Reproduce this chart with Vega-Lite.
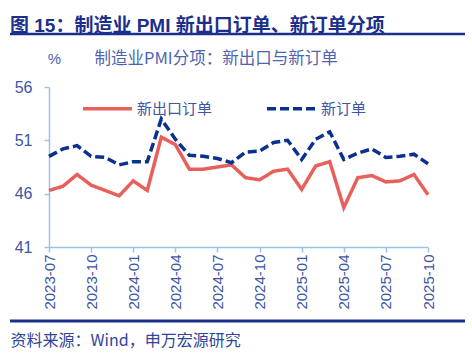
{
  "$schema": "https://vega.github.io/schema/vega-lite/v6.json",
  "width": 379,
  "height": 160,
  "autosize": {"type": "none"},
  "padding": {"left": 49, "top": 87, "right": 44, "bottom": 107},
  "background": "white",
  "config": {
    "view": {"stroke": null},
    "font": "Noto Sans CJK SC"
  },
  "title": {
    "text": "图 15：制造业 PMI 新出口订单、新订单分项",
    "anchor": "start",
    "frame": "group",
    "dx": -39,
    "dy": 23,
    "fontSize": 19,
    "fontWeight": "bold",
    "color": "#1d2f8c",
    "font": "Liberation Sans, Noto Sans CJK SC",
    "offset": 20
  },
  "data": {
    "values": [
      {"month": "2023-07", "series": "新出口订单", "value": 46.3},
      {"month": "2023-08", "series": "新出口订单", "value": 46.7},
      {"month": "2023-09", "series": "新出口订单", "value": 47.8},
      {"month": "2023-10", "series": "新出口订单", "value": 46.8},
      {"month": "2023-11", "series": "新出口订单", "value": 46.3},
      {"month": "2023-12", "series": "新出口订单", "value": 45.8},
      {"month": "2024-01", "series": "新出口订单", "value": 47.2},
      {"month": "2024-02", "series": "新出口订单", "value": 46.3},
      {"month": "2024-03", "series": "新出口订单", "value": 51.3},
      {"month": "2024-04", "series": "新出口订单", "value": 50.6},
      {"month": "2024-05", "series": "新出口订单", "value": 48.3},
      {"month": "2024-06", "series": "新出口订单", "value": 48.3},
      {"month": "2024-07", "series": "新出口订单", "value": 48.5},
      {"month": "2024-08", "series": "新出口订单", "value": 48.7},
      {"month": "2024-09", "series": "新出口订单", "value": 47.5},
      {"month": "2024-10", "series": "新出口订单", "value": 47.3},
      {"month": "2024-11", "series": "新出口订单", "value": 48.1},
      {"month": "2024-12", "series": "新出口订单", "value": 48.3},
      {"month": "2025-01", "series": "新出口订单", "value": 46.4},
      {"month": "2025-02", "series": "新出口订单", "value": 48.6},
      {"month": "2025-03", "series": "新出口订单", "value": 49.0},
      {"month": "2025-04", "series": "新出口订单", "value": 44.7},
      {"month": "2025-05", "series": "新出口订单", "value": 47.5},
      {"month": "2025-06", "series": "新出口订单", "value": 47.7},
      {"month": "2025-07", "series": "新出口订单", "value": 47.1},
      {"month": "2025-08", "series": "新出口订单", "value": 47.2},
      {"month": "2025-09", "series": "新出口订单", "value": 47.8},
      {"month": "2025-10", "series": "新出口订单", "value": 45.9},
      {"month": "2023-07", "series": "新订单", "value": 49.5},
      {"month": "2023-08", "series": "新订单", "value": 50.2},
      {"month": "2023-09", "series": "新订单", "value": 50.5},
      {"month": "2023-10", "series": "新订单", "value": 49.5},
      {"month": "2023-11", "series": "新订单", "value": 49.4},
      {"month": "2023-12", "series": "新订单", "value": 48.7},
      {"month": "2024-01", "series": "新订单", "value": 49.0},
      {"month": "2024-02", "series": "新订单", "value": 49.0},
      {"month": "2024-03", "series": "新订单", "value": 53.0},
      {"month": "2024-04", "series": "新订单", "value": 51.1},
      {"month": "2024-05", "series": "新订单", "value": 49.6},
      {"month": "2024-06", "series": "新订单", "value": 49.5},
      {"month": "2024-07", "series": "新订单", "value": 49.3},
      {"month": "2024-08", "series": "新订单", "value": 48.9},
      {"month": "2024-09", "series": "新订单", "value": 49.9},
      {"month": "2024-10", "series": "新订单", "value": 50.0},
      {"month": "2024-11", "series": "新订单", "value": 50.8},
      {"month": "2024-12", "series": "新订单", "value": 51.0},
      {"month": "2025-01", "series": "新订单", "value": 49.2},
      {"month": "2025-02", "series": "新订单", "value": 51.1},
      {"month": "2025-03", "series": "新订单", "value": 51.8},
      {"month": "2025-04", "series": "新订单", "value": 49.2},
      {"month": "2025-05", "series": "新订单", "value": 49.8},
      {"month": "2025-06", "series": "新订单", "value": 50.2},
      {"month": "2025-07", "series": "新订单", "value": 49.4},
      {"month": "2025-08", "series": "新订单", "value": 49.5},
      {"month": "2025-09", "series": "新订单", "value": 49.7},
      {"month": "2025-10", "series": "新订单", "value": 48.8}
    ]
  },
  "layer": [
    {
      "transform": [{"filter": "datum.series == '新出口订单'"}],
      "mark": {"type": "line", "strokeWidth": 3.5, "strokeCap": "butt", "strokeJoin": "miter"},
      "encoding": {
        "x": {
          "field": "month", "type": "ordinal",
          "scale": {"type": "point", "padding": 0},
          "axis": {
            "orient": "bottom",
            "values": ["2023-07", "2023-10", "2024-01", "2024-04", "2024-07", "2024-10", "2025-01", "2025-04", "2025-07", "2025-10"],
            "labelAngle": -90,
            "labelFont": "Liberation Sans",
            "labelFontSize": 15,
            "labelColor": "#3d55a5",
            "labelPadding": 2,
            "tickSize": 5,
            "tickColor": "#9cc2e5",
            "domainColor": "#9cc2e5",
            "domainWidth": 1.5,
            "tickWidth": 1.5,
            "grid": false,
            "title": "资料来源：Wind，申万宏源研究",
            "titleFont": "Noto Sans CJK SC",
            "titleFontSize": 16,
            "titleFontWeight": "normal",
            "titleColor": "#2f4599",
            "titleAlign": "left",
            "titleBaseline": "middle",
            "titleAnchor": "start",
            "titleX": -39,
            "titleY": 93
          }
        },
        "y": {
          "field": "value", "type": "quantitative",
          "scale": {"domain": [41, 56], "nice": false, "zero": false},
          "axis": {
            "values": [41, 46, 51, 56],
            "labelFont": "Liberation Sans",
            "labelFontSize": 16,
            "labelColor": "#3d55a5",
            "labelPadding": 12,
            "tickSize": 5,
            "tickColor": "#9cc2e5",
            "tickWidth": 1.5,
            "domainColor": "#9cc2e5",
            "domainWidth": 1.5,
            "grid": false,
            "title": "%",
            "titleFont": "Liberation Sans",
            "titleFontSize": 15,
            "titleFontWeight": "normal",
            "titleColor": "#4d64ad",
            "titleAngle": 0,
            "titleAlign": "center",
            "titleBaseline": "middle",
            "titleX": 5,
            "titleY": -29
          }
        },
        "color": {
          "field": "series", "type": "nominal",
          "scale": {"domain": ["新出口订单", "新订单"], "range": ["#e8605b", "#0b318f"]},
          "legend": {
            "title": null,
            "orient": "none",
            "direction": "horizontal",
            "legendX": 32,
            "legendY": -5,
            "symbolType": "stroke",
            "symbolSize": 2400,
            "symbolStrokeWidth": 3.5,
            "labelFont": "Noto Sans CJK SC",
            "labelFontSize": 15,
            "labelColor": "#3d55a5",
            "labelOffset": 3,
            "columnPadding": 47
          }
        },
        "strokeDash": {
          "field": "series", "type": "nominal",
          "scale": {"domain": ["新出口订单", "新订单"], "range": [[1, 0], [9, 4]]},
          "legend": {
            "title": null,
            "orient": "none",
            "direction": "horizontal",
            "legendX": 32,
            "legendY": -5,
            "symbolType": "stroke",
            "symbolSize": 2400,
            "symbolStrokeWidth": 3.5,
            "labelFont": "Noto Sans CJK SC",
            "labelFontSize": 15,
            "labelColor": "#3d55a5",
            "labelOffset": 3,
            "columnPadding": 47
          }
        }
      }
    },
    {
      "transform": [{"filter": "datum.series == '新订单'"}],
      "mark": {"type": "line", "strokeWidth": 3.5, "strokeCap": "butt", "strokeJoin": "miter"},
      "encoding": {
        "x": {
          "field": "month", "type": "ordinal",
          "scale": {"type": "point", "padding": 0},
          "axis": {
            "orient": "top",
            "labels": false,
            "ticks": false,
            "domain": false,
            "grid": false,
            "title": "制造业PMI分项：新出口与新订单",
            "titleFont": "Noto Sans CJK SC",
            "titleFontSize": 16.5,
            "titleFontWeight": "normal",
            "titleColor": "#4d64ad",
            "titleAlign": "left",
            "titleBaseline": "middle",
            "titleAnchor": "start",
            "titleX": 45,
            "titleY": -29
          }
        },
        "y": {"field": "value", "type": "quantitative"},
        "color": {"field": "series", "type": "nominal"},
        "strokeDash": {"field": "series", "type": "nominal"}
      }
    },
    {
      "data": {"values": [{"line": "top"}]},
      "mark": {"type": "rule", "color": "#1d2f8c", "strokeWidth": 2.5},
      "encoding": {
        "x": {"value": -39},
        "x2": {"value": 416},
        "y": {"value": -53}
      }
    },
    {
      "data": {"values": [{"line": "bottom"}]},
      "mark": {"type": "rule", "color": "#1d2f8c", "strokeWidth": 3},
      "encoding": {
        "x": {"value": -39},
        "x2": {"value": 416},
        "y": {"value": 234}
      }
    }
  ],
  "resolve": {"axis": {"x": "independent"}}
}
